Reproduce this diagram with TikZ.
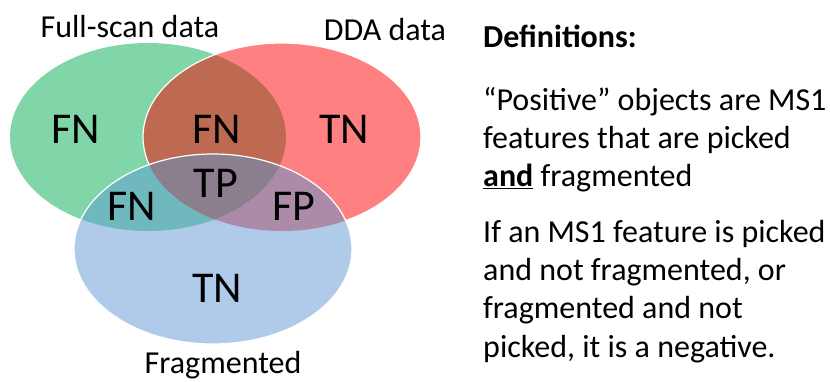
\documentclass[tikz,border=0pt]{standalone}
\usepackage{fontspec}
\setmainfont{Carlito}
\definecolor{fsgreen}{RGB}{128,214,168}
\definecolor{ddared}{RGB}{255,128,128}
\definecolor{fragblue}{RGB}{175,203,233}
\definecolor{gr}{RGB}{190,106,82}
\definecolor{gb}{RGB}{111,185,190}
\definecolor{rb}{RGB}{172,139,168}
\definecolor{grb}{RGB}{139,127,142}
\tikzset{
  region/.style={font=\fontsize{44bp}{50bp}\selectfont, anchor=base, inner sep=0pt},
  setname/.style={font=\fontsize{32bp}{38bp}\selectfont, anchor=base, inner sep=0pt},
  bodyline/.style={font=\fontsize{32bp}{38bp}\selectfont, anchor=base west, inner sep=0pt},
  rim/.style={draw=white, line width=1.2bp}
}
\begin{document}
\begin{tikzpicture}[x=1bp,y=-1bp]
\useasboundingbox (0,0) rectangle (830,381);
% the three sets
\def\greenset{(148,137) ellipse [x radius=138bp, y radius=94bp]}
\def\redset{(282,137) ellipse [x radius=139bp, y radius=94bp]}
\def\blueset{(213,249) ellipse [x radius=139bp, y radius=95bp]}
\fill[fsgreen] \greenset;
\fill[ddared] \redset;
\fill[fragblue] \blueset;
% pairwise overlaps
\begin{scope}
  \clip \greenset;
  \fill[gr] \redset;
  \fill[gb] \blueset;
\end{scope}
\begin{scope}
  \clip \redset;
  \fill[rb] \blueset;
\end{scope}
% triple overlap
\begin{scope}
  \clip \greenset;
  \clip \redset;
  \fill[grb] \blueset;
\end{scope}
% white rims
\begin{scope}[even odd rule]
  \clip (0,0) rectangle (830,381) \blueset;
  \draw[rim] \redset;
\end{scope}
\draw[rim] \blueset;
% region labels
\node[region] (fnA) at (76,143) {FN};
\node[region] (fnB) at (217,143) {FN};
\node[region] (tnA) at (344,143) {TN};
\node[region] (tp) at (216,197) {TP};
\node[region] (fnC) at (132,220) {FN};
\node[region] (fp) at (294,220) {FP};
\node[region] (tnB) at (217,302) {TN};
% set names
\node[setname] (fullscan) at (130,37.7) {Full-scan data};
\node[setname] (dda) at (385,40) {DDA data};
\node[setname] (frag) at (223,373) {Fragmented};
% definitions
\node[bodyline, font=\fontsize{32bp}{38bp}\selectfont\bfseries] (defs) at (483,47) {Definitions:};
\node[bodyline] (p1a) at (483,110) {“Positive” objects are MS1};
\node[bodyline] (p1b) at (483,148.3) {features that are picked};
\node[bodyline] (p1c) at (483,186.6) {\textbf{\underline{and}} fragmented};
\node[bodyline] (p2a) at (483,242) {If an MS1 feature is picked};
\node[bodyline] (p2b) at (483,280.3) {and not fragmented, or};
\node[bodyline] (p2c) at (483,318.6) {fragmented and not};
\node[bodyline] (p2d) at (483,357) {picked, it is a negative.};
\end{tikzpicture}
\end{document}
